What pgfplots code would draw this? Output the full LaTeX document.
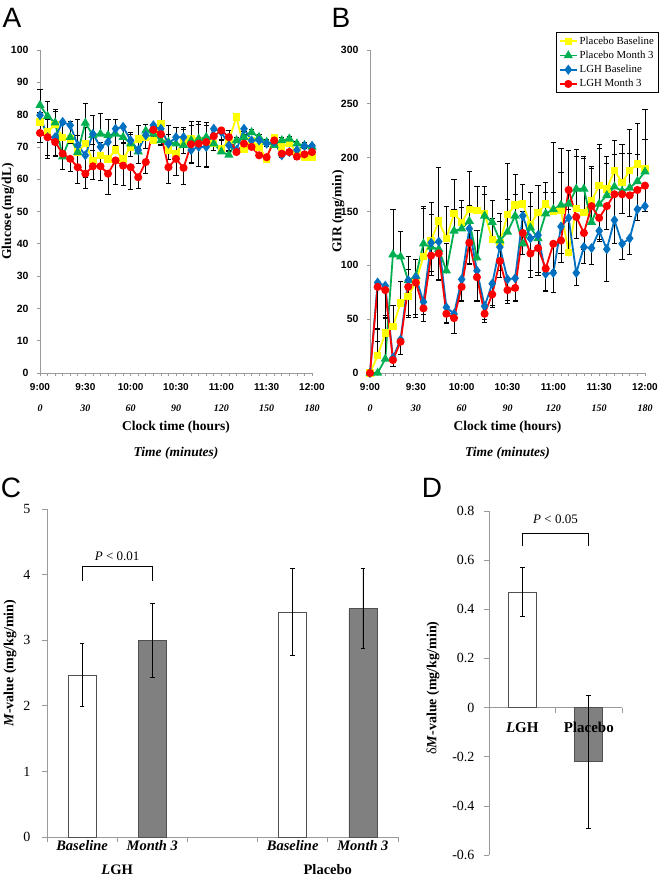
\documentclass[border=0pt]{standalone}
\usepackage{fontspec}
\setmainfont{Liberation Serif}
\setsansfont{Liberation Sans}
\usepackage{pgfplots}
\usepackage{pgfplotstable}
\pgfplotsset{compat=1.18}

\definecolor{cy}{HTML}{FFFF00}
\definecolor{cg}{HTML}{00B050}
\definecolor{cb}{HTML}{0070C0}
\definecolor{cr}{HTML}{FF0000}
\definecolor{axgray}{HTML}{9A9A9A}
\definecolor{bargray}{HTML}{808080}
\definecolor{baredge}{HTML}{505050}

% Panel A: glucose (mg/dL), t in minutes; Y=Placebo Baseline, G=Placebo Month 3, B=LGH Baseline, R=LGH Month 3
\pgfplotstableread{
t   Y    Ye   G    Ge   B    Be   R    Re
0   77.7 3    82.9 5    79.8 5    74.3 3
5   74.6 4    79.5 4.5  73.0 6.5  73.0 5.5
10  77.0 4    77.5 4    73.0 5.5  71.5 4.5
15  73.0 4    67.0 6    77.7 5.5  67.9 5
20  72.5 4    73.0 5    76.7 5.5  66.3 4
25  68.4 5    68.4 10   70.5 6    63.7 5
30  71.0 5    77.4 6    67.4 7    61.7 4.5
35  65.8 5    73.6 6    74.0 5    64.0 4
40  67.4 4    74.0 6.5  70.0 6    64.0 4.5
45  66.3 5    73.6 5    71.5 6    61.7 6.5
50  69.0 5    74.0 4.5  75.6 5    65.8 7.5
55  66.3 5    73.0 3.5  76.2 5    64.2 6
60  70.0 4    71.0 3.5  72.0 5    63.7 7
65  72.5 4    68.5 5    69.0 4    60.6 3.5
70  73.0 4    75.0 2    73.6 4    65.3 3.5
75  72.0 4    74.0 3    76.7 4    75.3 3
80  77.2 6.5  72.0 5    75.6 5    73.9 3
85  69.0 5    71.5 5    71.0 5    63.7 5
90  68.0 5    71.0 5    73.0 5    66.3 5
95  71.5 4    70.5 5.5  73.0 5    63.5 5
100 72.5 4    72.0 6    69.0 4    70.8 5.5
105 72.0 5    72.5 5.5  70.0 6    71.0 7
110 71.5 5    73.0 4.5  70.0 6    71.5 8
115 71.0 4    71.0 3    75.6 5    73.3 4.5
120 69.4 3    68.5 3.5  74.6 4    75.1 3
125 72.0 3    67.5 3    70.5 2    73.0 4
130 79.3 0.8  72.0 0.8  69.0 0.8  68.4 0.8
135 69.4 0.8  73.0 0.8  75.6 0.8  71.0 0.8
140 72.0 0.8  74.5 0.8  72.0 0.8  70.0 0.8
145 70.0 0.8  73.0 0.8  72.0 0.8  67.4 0.8
150 66.3 0.8  71.5 0.8  71.0 0.8  66.8 0.8
155 73.0 0.8  70.5 0.8  71.5 0.8  72.0 0.8
160 70.0 0.8  72.0 0.8  67.4 0.8  67.9 0.8
165 71.0 0.8  72.5 0.8  68.4 0.8  68.4 0.8
170 68.4 0.8  71.0 0.8  69.0 0.8  67.0 0.8
175 66.8 0.8  70.5 0.8  70.3 0.8  67.7 0.8
180 66.8 0.8  70.0 0.8  70.3 0.8  68.4 0.8
}\tabA

% Panel B: GIR (mg/min)
\pgfplotstableread{
t   Y   Ye  G   Ge  B   Be  R   Re
0   0   0   0   0   0   0   0   0
5   16  25  0   0   84  55  80  40
10  37  15  13  40  81  30  77  25
15  43  20  110 42  14  8   12  6
20  65  20  108 23  31  14  29  12
25  71  37  86  10  86  33  80  28
30  85  20  90  15  89  37  84  30
35  108 45  120 35  66  12  60  12
40  123 35  117 30  121 30  109 15
45  141 50  115 28  122 35  111 25
50  125 30  95  25  61  14  55  9
55  148 32  132 20  55  18  51  14
60  140 20  134 20  87  20  80  14
65  152 35  141 15  134 32  121 20
70  151 22  107 25  95  28  89  23
75  148 25  146 20  62  12  55  8
80  124 20  140 20  83  20  73  12
85  121 20  123 25  117 22  104 15
90  147 48  131 30  87  20  77  12
95  156 28  146 20  88  22  79  12
100 157 18  120 30  146 25  130 20
105 138 30  135 20  125 30  111 22
110 149 25  125 25  128 35  116 25
115 157 20  148 20  92  16  97  20
120 150 18  152 62  93  18  120 25
125 151 58  156 30  136 25  123 20
130 112 40  157 50  144 35  170 55
135 153 55  171 30  93  12  145 20
140 149 50  171 30  117 15  130 15
145 160 32  140 50  116 15  155 15
150 174 35  157 55  132 10  144 20
155 171 30  165 30  115 30  155 22
160 188 28  173 30  142 22  166 22
165 177 35  169 35  120 15  166 18
170 188 38  172 32  125 15  165 20
175 194 38  178 25  152 10  170 16
180 190 55  187 30  155 5   174 18
}\tabB

\pgfplotsset{
  tsaxis/.style={
    scale only axis, clip=false,
    axis x line*=bottom, axis y line*=left,
    axis line style={axgray,-,line width=0.8pt},
    tick style={axgray,line width=0.7pt},
    tick align=outside, major tick length=3pt, minor tick length=3pt,
    xmin=0, xmax=180, xtick={0,30,...,180}, minor x tick num=5,
    xticklabels={
      {\sffamily 9:00\\[9pt]\rmfamily\itshape 0},
      {\sffamily 9:30\\[9pt]\rmfamily\itshape 30},
      {\sffamily 10:00\\[9pt]\rmfamily\itshape 60},
      {\sffamily 10:30\\[9pt]\rmfamily\itshape 90},
      {\sffamily 11:00\\[9pt]\rmfamily\itshape 120},
      {\sffamily 11:30\\[9pt]\rmfamily\itshape 150},
      {\sffamily 12:00\\[9pt]\rmfamily\itshape 180}},
    xticklabel style={align=center, font=\bfseries\fontsize{10}{12}\selectfont, yshift=-4pt},
    yticklabel style={font=\sffamily\bfseries\fontsize{10.5}{12}\selectfont, xshift=-5pt},
    /pgf/number format/assume math mode=true,
    ylabel style={font=\bfseries\fontsize{13.5}{15}\selectfont},
  },
  pser/.style={line width=1.8pt, error bars/y dir=plus, error bars/y explicit,
    error bars/error bar style={black,line width=0.7pt},
    error bars/error mark options={rotate=90,black,mark size=2.6pt,line width=0.9pt}},
  lser/.style={line width=1.8pt, error bars/y dir=minus, error bars/y explicit,
    error bars/error bar style={black,line width=0.7pt},
    error bars/error mark options={rotate=90,black,mark size=2.6pt,line width=0.9pt}},
  bstyle/.style={ybar, bar shift=0pt, bar width=28pt, draw=baredge, line width=0.8pt,
    error bars/y dir=both, error bars/y explicit,
    error bars/error bar style={black,line width=0.7pt},
    error bars/error mark options={rotate=90,black,mark size=2.3pt,line width=0.8pt}},
}

\begin{document}
\begin{tikzpicture}[x=1pt,y=1pt]
\useasboundingbox (0,0) rectangle (667,886);

% Panel letters
\node[font=\sffamily\fontsize{28}{30}\selectfont] at (12,868) {A};
\node[font=\sffamily\fontsize{28}{30}\selectfont] at (341,868) {B};
\node[font=\sffamily\fontsize{28}{30}\selectfont] at (11,398) {C};
\node[font=\sffamily\fontsize{28}{30}\selectfont] at (432,398) {D};

% ---------------- Panel A ----------------
\begin{axis}[tsaxis, at={(40pt,513pt)}, anchor=south west, width=272pt, height=323pt,
  ymin=0, ymax=100, ytick={0,10,...,100},
  ylabel={Glucose (mg/dL)},
  ylabel style={at={(axis description cs:-0.118,0.5)}, anchor=center}]
\addplot[pser, color=cy, mark=square*, mark size=2.8pt, mark options={solid}]
  table[x=t, y=Y, y error=Ye] {\tabA};
\addplot[pser, color=cg, mark=triangle*, mark size=3.6pt, mark options={solid}]
  table[x=t, y=G, y error=Ge] {\tabA};
\addplot[lser, color=cb, mark=diamond*, mark size=3.6pt, mark options={solid}]
  table[x=t, y=B, y error=Be] {\tabA};
\addplot[lser, color=cr, mark=*, mark size=3.1pt, mark options={solid}]
  table[x=t, y=R, y error=Re] {\tabA};
\node[font=\bfseries\fontsize{13.5}{15}\selectfont] at (axis description cs:0.5,-0.167) {Clock time (hours)};
\node[font=\bfseries\itshape\fontsize{13.5}{15}\selectfont] at (axis description cs:0.5,-0.248) {Time (minutes)};
\end{axis}

% ---------------- Panel B ----------------
\begin{axis}[tsaxis, at={(370pt,513pt)}, anchor=south west, width=275pt, height=323pt,
  ymin=0, ymax=300, ytick={0,50,...,300},
  ylabel={GIR (mg/min)},
  ylabel style={at={(axis description cs:-0.116,0.5)}, anchor=center},
  legend style={at={(rel axis cs:1.05,1.056)}, anchor=north east, draw=black, line width=0.9pt,
    font=\fontsize{10.8}{12}\selectfont, inner sep=2.5pt, row sep=1.2pt, fill=white},
  legend cell align=left]
\addplot[pser, color=cy, mark=square*, mark size=2.8pt, mark options={solid}]
  table[x=t, y=Y, y error=Ye] {\tabB};
\addlegendentry{Placebo Baseline}
\addplot[pser, color=cg, mark=triangle*, mark size=3.6pt, mark options={solid}]
  table[x=t, y=G, y error=Ge] {\tabB};
\addlegendentry{Placebo Month 3}
\addplot[lser, color=cb, mark=diamond*, mark size=3.6pt, mark options={solid}]
  table[x=t, y=B, y error=Be] {\tabB};
\addlegendentry{LGH Baseline}
\addplot[lser, color=cr, mark=*, mark size=3.1pt, mark options={solid}]
  table[x=t, y=R, y error=Re] {\tabB};
\addlegendentry{LGH Month 3}
\node[font=\bfseries\fontsize{13.5}{15}\selectfont] at (axis description cs:0.5,-0.167) {Clock time (hours)};
\node[font=\bfseries\itshape\fontsize{13.5}{15}\selectfont] at (axis description cs:0.5,-0.248) {Time (minutes)};
\end{axis}

% ---------------- Panel C ----------------
\begin{axis}[at={(47pt,49pt)}, anchor=south west, scale only axis, clip=false,
  width=351pt, height=328pt,
  xmin=0.5, xmax=5.5, ymin=0, ymax=5,
  axis x line*=bottom, axis y line*=left,
  axis line style={axgray,-,line width=0.8pt},
  tick style={axgray,line width=0.7pt}, tick align=outside, major tick length=5pt,
  xtick={0.5,1.5,2.5,3.5,4.5,5.5}, xticklabels={,,,,,},
  extra x ticks={1,2,4,5}, extra x tick labels={Baseline,Month 3,Baseline,Month 3},
  extra x tick style={major tick length=0pt,
    xticklabel style={font=\bfseries\itshape\fontsize{14.5}{16}\selectfont}},
  ytick={0,1,2,3,4,5},
  yticklabel style={font=\fontsize{14}{16}\selectfont, xshift=-8pt},
  /pgf/number format/assume math mode=true,
  ylabel={\textit{M}-value (mg/kg/min)},
  ylabel style={at={(axis description cs:-0.105,0.53)}, anchor=center, font=\bfseries\fontsize{14}{16}\selectfont}]
\addplot[bstyle, fill=white] coordinates {(1,2.47) +- (0,0.48) (4,3.43) +- (0,0.66)};
\addplot[bstyle, fill=bargray] coordinates {(2,3.00) +- (0,0.56) (5,3.48) +- (0,0.61)};
\draw[black, line width=0.8pt] (axis cs:1,3.90) -- (axis cs:1,4.13) -- (axis cs:2,4.13) -- (axis cs:2,3.90);
\node[font=\fontsize{13}{15}\selectfont] at (axis cs:1.5,4.28) {\textit{P} < 0.01};
\node[font=\bfseries\fontsize{14.5}{16}\selectfont] at ([yshift=-33pt]axis cs:1.5,0) {\textit{L}GH};
\node[font=\bfseries\fontsize{14.5}{16}\selectfont] at ([yshift=-33pt]axis cs:4.5,0) {Placebo};
\end{axis}

% ---------------- Panel D ----------------
\begin{axis}[at={(489pt,31pt)}, anchor=south west, scale only axis, clip=false,
  width=133pt, height=344pt,
  xmin=0.5, xmax=2.5, ymin=-0.6, ymax=0.8,
  axis x line*=middle, axis y line*=left,
  axis line style={axgray,-,line width=0.8pt},
  tick style={axgray,line width=0.7pt}, tick align=outside, major tick length=5pt,
  xtick={1.5,2.5}, xticklabels={,},
  ytick={-0.6,-0.4,-0.2,0,0.2,0.4,0.6,0.8},
  yticklabels={-0.6,-0.4,-0.2,0,0.2,0.4,0.6,0.8},
  yticklabel style={font=\fontsize{14}{16}\selectfont, xshift=-6pt},
  ylabel={δ\textbf{\textit{M}-value (mg/kg/min)}},
  ylabel style={at={(axis description cs:-0.42,0.485)}, anchor=center, font=\fontsize{14}{16}\selectfont}]
\addplot[bstyle, fill=white] coordinates {(1,0.47) +- (0,0.10)};
\addplot[bstyle, fill=bargray] coordinates {(2,-0.22) +- (0,0.27)};
\draw[black, line width=0.8pt] (axis cs:1,0.656) -- (axis cs:1,0.71) -- (axis cs:2,0.71) -- (axis cs:2,0.656);
\node[font=\fontsize{13}{15}\selectfont] at (axis cs:1.5,0.765) {\textit{P} < 0.05};
\node[font=\bfseries\fontsize{15}{16}\selectfont] at ([yshift=-20pt]axis cs:1,0) {\textit{L}GH};
\node[font=\bfseries\fontsize{15}{16}\selectfont] at ([yshift=-20pt]axis cs:2,0) {Placebo};
\end{axis}
\end{tikzpicture}
\end{document}
